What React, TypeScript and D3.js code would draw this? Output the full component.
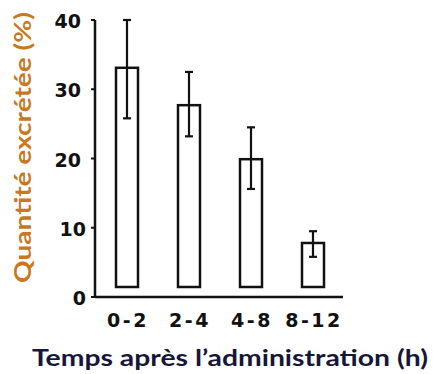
import React from "react";
import * as d3 from "d3";

const categories = ["0-2", "2-4", "4-8", "8-12"];
const values = [33.1, 27.7, 19.9, 7.8];
const errHigh = [40, 32.5, 24.5, 9.5];
const errLow = [25.8, 23.2, 15.6, 5.8];
const yTicks = [0, 10, 20, 30, 40];
const yTitle = "Quantité excrétée (%)";
const xTitle = "Temps après l’administration (h)";

const W = 433;
const H = 374;

export default function App() {
  const x = d3.scaleBand<string>().domain(categories).range([96, 344]).paddingInner(0.64).paddingOuter(0.32);
  const y = d3.scaleLinear().domain([0, 40]).range([297, 20]);
  const axisX = 95;
  const barBottom = y(0) - 10;
  const bw = 22;
  const cap = 4;
  const tickFont = "'DejaVu Sans', sans-serif";

  return (
    <svg width={W} height={H} style={{ position: "absolute", left: 0, top: 0, background: "#fff" }}>
      {/* y axis */}
      <line x1={axisX} x2={axisX} y1={y(40)} y2={y(0)} stroke="#111" strokeWidth={2.5} />
      {/* x axis */}
      <line x1={axisX} x2={343} y1={y(0)} y2={y(0)} stroke="#111" strokeWidth={2.5} />
      {yTicks.map((t) => (
        <g key={t}>
          <line x1={axisX - 4} x2={axisX} y1={y(t)} y2={y(t)} stroke="#111" strokeWidth={2} />
          <text
            x={t < 20 ? 86 : 81}
            y={y(t) + 1}
            textAnchor="end"
            dominantBaseline="central"
            fontFamily={tickFont}
            fontWeight="bold"
            fontSize={19}
            fill="#111"
          >
            {t}
          </text>
        </g>
      ))}
      {categories.map((c, i) => {
        const cx = (x(c) as number) + x.bandwidth() / 2;
        return (
          <g key={c}>
            <rect
              x={cx - bw / 2}
              y={y(values[i])}
              width={bw}
              height={barBottom - y(values[i])}
              fill="#fff"
              stroke="#111"
              strokeWidth={2.5}
            />
            <line x1={cx} x2={cx} y1={y(errHigh[i])} y2={y(errLow[i])} stroke="#111" strokeWidth={2.2} />
            <line x1={cx - cap} x2={cx + cap} y1={y(errHigh[i])} y2={y(errHigh[i])} stroke="#111" strokeWidth={2.2} />
            <line x1={cx - cap} x2={cx + cap} y1={y(errLow[i])} y2={y(errLow[i])} stroke="#111" strokeWidth={2.2} />
            <text
              x={cx + 1}
              y={327}
              textAnchor="middle"
              fontFamily={tickFont}
              fontWeight="bold"
              fontSize={19}
              letterSpacing={2.5}
              fill="#111"
            >
              {c}
            </text>
          </g>
        );
      })}
      <text
        transform="translate(31,147.5) rotate(-90)"
        textAnchor="middle"
        fontFamily="Lato, sans-serif"
        fontWeight="bold"
        fontSize={22}
        textLength={271}
        lengthAdjust="spacingAndGlyphs"
        fill="#c8781e"
      >
        {yTitle}
      </text>
      <text
        x={230}
        y={366}
        textAnchor="middle"
        fontFamily="Lato, sans-serif"
        fontWeight="bold"
        fontSize={22}
        textLength={396}
        lengthAdjust="spacingAndGlyphs"
        fill="#16163a"
      >
        {xTitle}
      </text>
    </svg>
  );
}
